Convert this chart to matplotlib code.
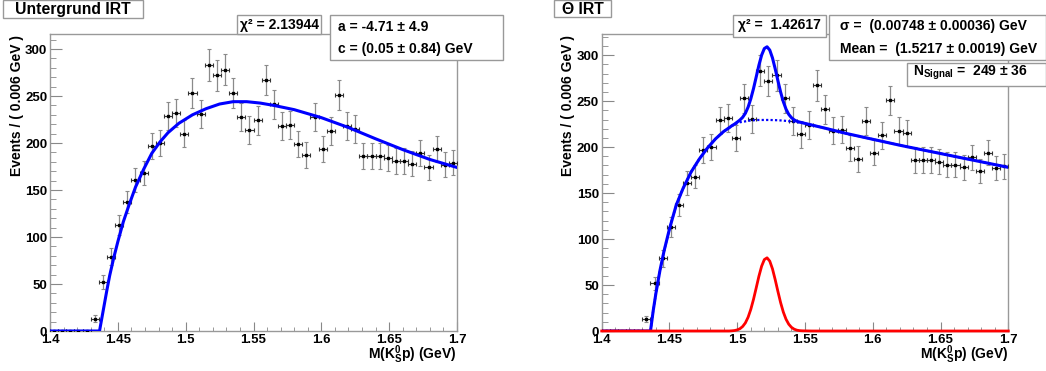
import numpy as np
import matplotlib
matplotlib.use('Agg')
import matplotlib.pyplot as plt
from matplotlib.patches import Rectangle
from matplotlib.ticker import MultipleLocator

plt.rcParams['font.family'] = ['Liberation Sans', 'DejaVu Sans']
plt.rcParams['font.weight'] = 'bold'
plt.rcParams['mathtext.fontset'] = 'custom'
plt.rcParams['mathtext.rm'] = 'Liberation Sans:bold'
plt.rcParams['mathtext.bf'] = 'Liberation Sans:bold'
plt.rcParams['mathtext.it'] = 'Liberation Sans:bold'
plt.rcParams['mathtext.default'] = 'bf'

# histogram: 50 bins of 0.006 GeV from 1.4 to 1.7
bin_lo = 1.4
bin_width = 0.006
counts = [0, 0, 0, 0, 0, 13, 52, 79, 113, 137,
          161, 168, 197, 200, 229, 232, 210, 253, 231, 283,
          272, 278, 253, 228, 214, 224, 267, 241, 218, 219,
          199, 187, 228, 194, 213, 251, 218, 215, 186, 186,
          186, 184, 181, 181, 178, 189, 174, 194, 177, 179]

# background-only fit (left panel)
left_fit_x = [1.400, 1.4365, 1.438, 1.440, 1.442, 1.444, 1.447, 1.450, 1.454, 1.458,
              1.463, 1.469, 1.475, 1.481, 1.487, 1.495, 1.505, 1.515, 1.525, 1.535,
              1.545, 1.555, 1.565, 1.580, 1.600, 1.620, 1.640, 1.660, 1.680, 1.700]
left_fit_y = [0, 0, 12, 28, 44, 59, 78, 95, 116, 133,
              153, 172, 189, 201, 211, 221, 230, 236.5, 241.5, 244,
              244, 242.5, 240, 235.5, 227, 216.5, 204.5, 193, 182.5, 174]

# signal + background fit (right panel)
right_x = [1.400, 1.436, 1.438, 1.440, 1.443, 1.446, 1.450, 1.455, 1.460, 1.466,
           1.472, 1.478, 1.484, 1.490, 1.494,
           1.496, 1.498, 1.500, 1.502, 1.504, 1.506, 1.508, 1.510, 1.512, 1.514,
           1.516, 1.518, 1.520, 1.522, 1.524, 1.526, 1.528, 1.530, 1.532, 1.534,
           1.536, 1.538, 1.540, 1.542, 1.544, 1.546, 1.548,
           1.555, 1.565, 1.580, 1.600, 1.620, 1.640, 1.660, 1.680, 1.700]
right_bg = [0, 0, 22, 41, 66, 87, 111, 137, 155, 173,
            187, 199, 209, 217, 221,
            223, 224.5, 226, 227, 227.5, 228, 228.5, 229, 229.2, 229.4,
            229.5, 229.5, 229.5, 229.5, 229.5, 229.4, 229.3, 229.2, 229, 228.8,
            228.5, 228.2, 228, 227.6, 227.2, 226.8, 226.3,
            224, 220.5, 215, 208.5, 202, 196, 190, 184, 178]
right_sig = [0, 0, 0, 0, 0, 0, 0, 0, 0, 0,
             0, 0, 0, 0, 0,
             0.2, 0.5, 1.2, 2.5, 4.9, 8.8, 14.9, 23.5, 34.4, 46.9,
             59.6, 70.5, 77.7, 79.6, 76.0, 67.6, 55.9, 43.1, 30.9, 20.6,
             12.8, 7.4, 4.0, 2.0, 0.9, 0.4, 0.2,
             0, 0, 0, 0, 0, 0, 0, 0, 0]

W, H = 1046, 371


def px_rect(x0, y0, x1, y1):
    return [x0 / W, 1 - y1 / H, (x1 - x0) / W, (y1 - y0) / H]


def draw_box(fig, x0, y0, x1, y1):
    fig.add_artist(Rectangle((x0 / W, 1 - y1 / H), (x1 - x0) / W, (y1 - y0) / H,
                             transform=fig.transFigure, facecolor='white',
                             edgecolor='#999999', linewidth=1.0, zorder=5))


def ftext(fig, x, y, s, **kw):
    fig.text(x / W, 1 - y / H, s, zorder=6, **kw)


def setup_axes(ax, ymax):
    ax.set_xlim(1.4, 1.7)
    ax.set_ylim(0, ymax)
    for sp in ax.spines.values():
        sp.set_color('#999999')
        sp.set_linewidth(1.0)
    ax.xaxis.set_major_locator(MultipleLocator(0.05))
    ax.xaxis.set_minor_locator(MultipleLocator(0.01))
    ax.yaxis.set_major_locator(MultipleLocator(50))
    ax.yaxis.set_minor_locator(MultipleLocator(10))
    ax.tick_params(axis='both', which='both', direction='in', color='#888888',
                   labelsize=9.5, top=False, right=False)
    ax.tick_params(axis='y', which='major', length=8.6, pad=2)
    ax.tick_params(axis='y', which='minor', length=4.3)
    ax.tick_params(axis='x', which='major', length=6.5, pad=2.5)
    ax.tick_params(axis='x', which='minor', length=3.2)
    ax.xaxis.set_major_formatter(matplotlib.ticker.FuncFormatter(lambda v, p: f'{v:g}'))
    for lab in ax.get_xticklabels() + ax.get_yticklabels():
        lab.set_fontweight('bold')


def draw_data(ax):
    n = np.array(counts, dtype=float)
    x = bin_lo + bin_width * (np.arange(len(n)) + 0.5)
    err = np.sqrt(n)
    ax.errorbar(x, n, yerr=err, fmt='none', ecolor='#8a8a8a', elinewidth=0.9,
                capsize=1.2, capthick=0.8, zorder=3)
    ax.errorbar(x, n, xerr=bin_width / 2, fmt='none', ecolor='#333333', elinewidth=0.8,
                capsize=1.2, capthick=0.8, zorder=3)
    ax.plot(x, n, 's', color='black', markersize=1.7, zorder=4)


fig = plt.figure(figsize=(W / 100, H / 100), dpi=100)

# left panel: background only
ax1 = fig.add_axes(px_rect(50, 34, 457, 331))
setup_axes(ax1, 316)
draw_data(ax1)
ax1.plot(left_fit_x, left_fit_y, color='#0000ff', linewidth=2.2, zorder=5)

# right panel: signal + background
ax2 = fig.add_axes(px_rect(601.7, 34, 1008.3, 331))
setup_axes(ax2, 323)
draw_data(ax2)
rbg = np.array(right_bg)
rsig = np.array(right_sig)
ax2.plot(right_x, rbg, color='#0000ff', linewidth=1.6, linestyle=(0, (1, 1)), zorder=5)
ax2.plot(right_x, rbg + rsig, color='#0000ff', linewidth=2.2, zorder=6)
ax2.plot(right_x, rsig, color='#ff0000', linewidth=2.0, zorder=6, clip_on=False)

# axis titles
for xl, ax in ((456, ax1), (1008, ax2)):
    ftext(fig, xl, 359, r'M(K$^{0}_{S}$p) (GeV)', ha='right', va='baseline',
          fontsize=10, fontweight='bold')
for yl in (17, 568):
    ftext(fig, yl, 35, 'Events / ( 0.006 GeV )', rotation=90, ha='center', va='top',
          fontsize=10, fontweight='bold')

# title boxes
draw_box(fig, 3, 0, 143, 18)
ftext(fig, 73, 9.5, 'Untergrund IRT', ha='center', va='center', fontsize=11.3, fontweight='bold')
draw_box(fig, 554, 0, 611, 17)
ftext(fig, 582.5, 9, 'Θ IRT', ha='center', va='center', fontsize=11.3, fontweight='bold')

# left stat boxes
draw_box(fig, 237, 15, 321, 34)
ftext(fig, 279, 24.5, 'χ² = 2.13944', ha='center', va='center', fontsize=10, fontweight='bold')
draw_box(fig, 330, 15, 503, 60)
ftext(fig, 338, 27, 'a = -4.71 ± 4.9', ha='left', va='center', fontsize=10, fontweight='bold')
ftext(fig, 338, 49, 'c = (0.05 ± 0.84) GeV', ha='left', va='center', fontsize=10, fontweight='bold')

# right stat boxes
draw_box(fig, 733, 15, 826, 37)
ftext(fig, 779.5, 25.5, 'χ² =  1.42617', ha='center', va='center', fontsize=10, fontweight='bold')
draw_box(fig, 829, 15, 1045.5, 60)
ftext(fig, 840, 26, 'σ =  (0.00748 ± 0.00036) GeV', ha='left', va='center', fontsize=10, fontweight='bold')
ftext(fig, 840, 48.7, 'Mean =  (1.5217 ± 0.0019) GeV', ha='left', va='center', fontsize=10, fontweight='bold')
draw_box(fig, 907, 63, 1045.5, 86)
ftext(fig, 913, 73, r'N$_{Signal}$ =  249 ± 36', ha='left', va='center', fontsize=10, fontweight='bold')

fig.savefig('out.png', dpi=100, facecolor='white')
